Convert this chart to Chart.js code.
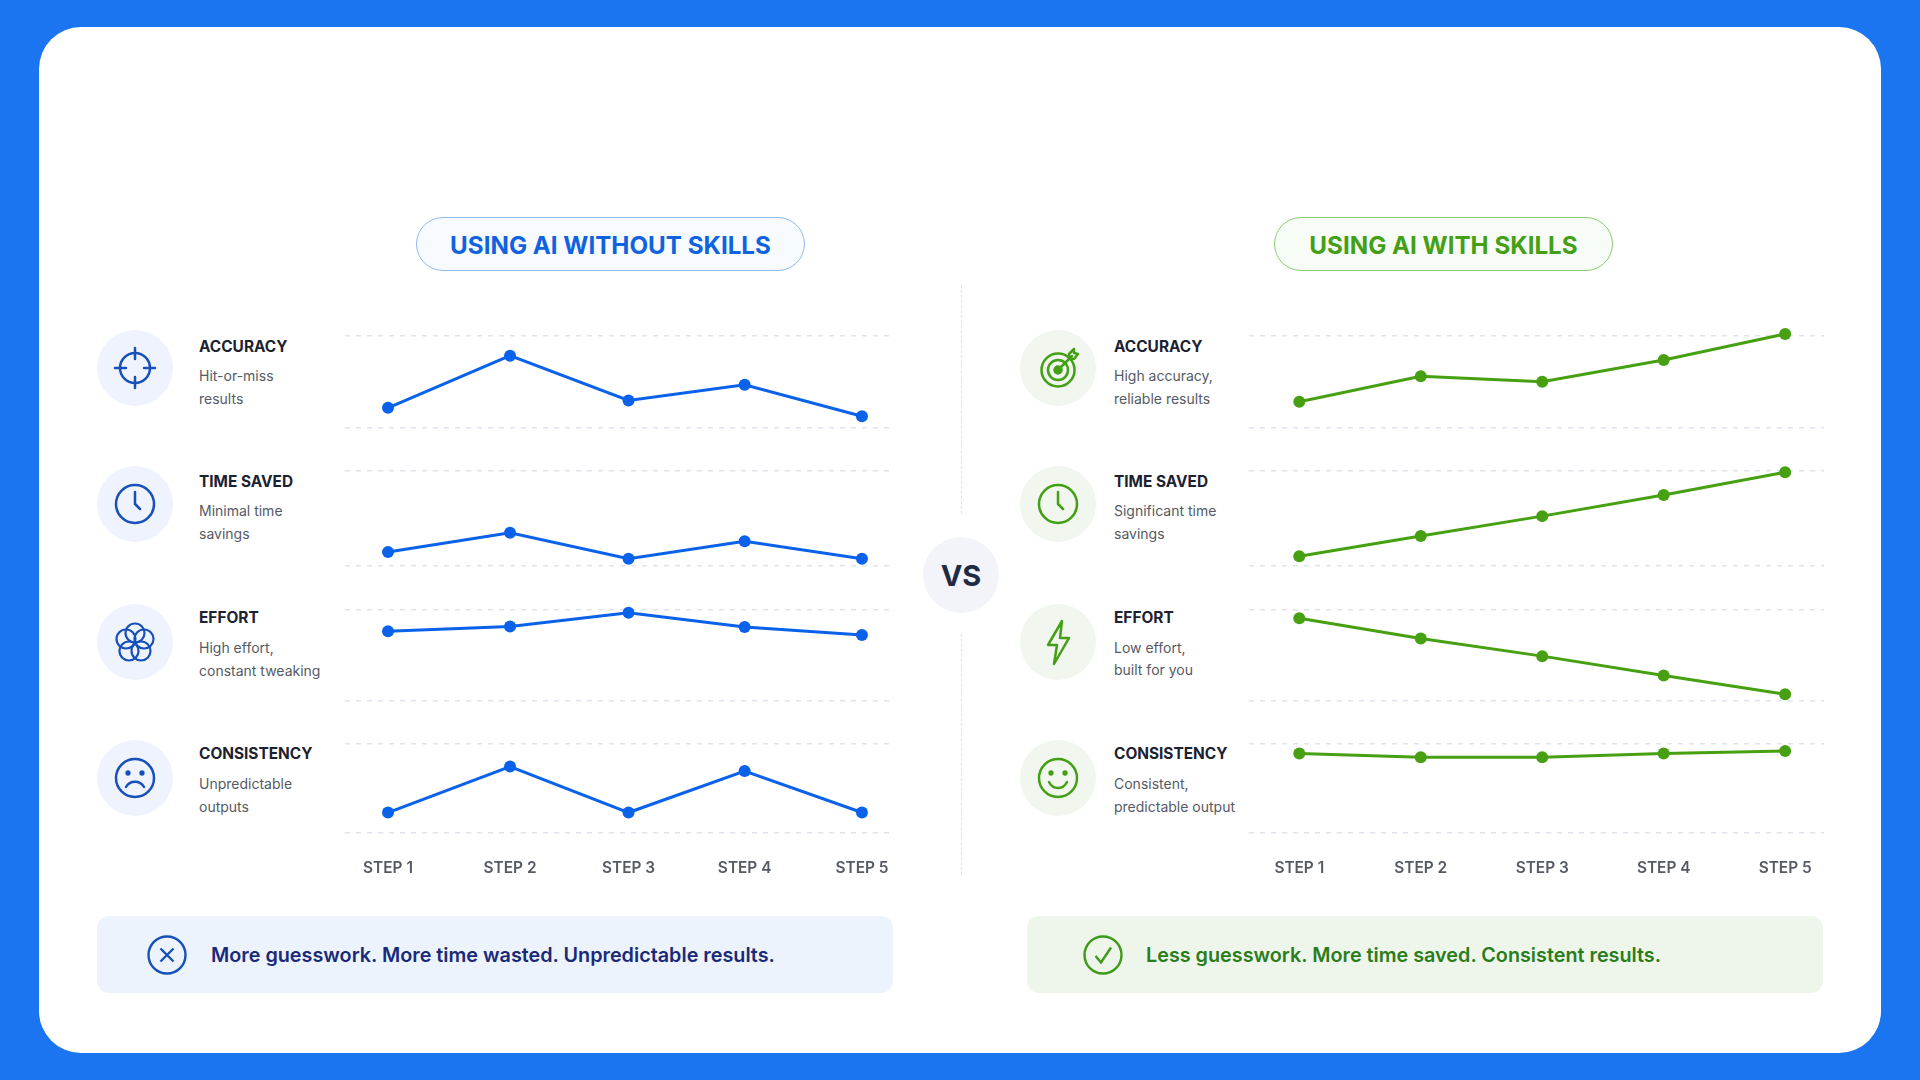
<!DOCTYPE html>
<html>
<head>
<meta charset="utf-8">
<title>Using AI with and without skills</title>
<script src="https://cdn.jsdelivr.net/npm/chart.js@4"></script>
<style>
html,body{margin:0;padding:0;width:1920px;height:1080px;overflow:hidden;background:#1b74f0;font-family:Inter,"Noto Sans",sans-serif;}
#card{position:absolute;left:39px;top:27px;width:1842px;height:1026px;background:#fff;border-radius:42px;}
.abs{position:absolute;}
.pill{position:absolute;top:217px;height:52px;border-radius:27px;font-size:24.2px;font-weight:700;line-height:55px;text-align:center;white-space:nowrap;}
.pill.blue{left:416px;width:387px;color:#0f62e0;border:1.5px solid #94b8f0;background:#f7faff;}
.pill.green{left:1274px;width:337px;color:#43a014;border:1.5px solid #8cc878;background:#f8fcf6;}
.bubble{position:absolute;width:76px;height:76px;border-radius:50%;}
.bubble svg{position:absolute;left:0;top:0;}
.head{position:absolute;font-size:15.4px;font-weight:700;color:#1c2230;line-height:20px;white-space:nowrap;}
.sub{position:absolute;font-size:14px;color:#555a64;line-height:20px;white-space:nowrap;}
.bar{position:absolute;top:916px;height:77px;border-radius:12px;}
.bar span{position:absolute;top:1px;line-height:77px;font-size:19.8px;font-weight:600;white-space:nowrap;}
canvas{position:absolute;display:block;}
</style>
</head>
<body>
<div id="card"></div>
<div class="pill blue">USING AI WITHOUT SKILLS</div>
<div class="pill green">USING AI WITH SKILLS</div>

<div class="abs" style="left:961px;top:285px;height:229px;border-left:1.5px dashed #dde1e9"></div>
<div class="abs" style="left:961px;top:634px;height:241px;border-left:1.5px dashed #dde1e9"></div>
<div class="abs" style="left:923px;top:537px;width:76px;height:76px;border-radius:50%;background:#f2f4f9;color:#1f2a44;font-size:29px;font-weight:700;line-height:77px;text-align:center">VS</div>

<div class="bar" style="left:97px;width:796px;background:#edf3fd">
  <svg class="abs" style="left:50px;top:19px" width="40" height="40" viewBox="0 0 40 40" fill="none" stroke="#1650b8" stroke-width="2.4"><circle cx="20" cy="20" r="18.5"/><path d="M13.5 13.5 26.5 26.5M26.5 13.5 13.5 26.5"/></svg>
  <span style="left:114px;color:#1a2a78">More guesswork. More time wasted. Unpredictable results.</span>
</div>
<div class="bar" style="left:1027px;width:796px;background:#eef6ec">
  <svg class="abs" style="left:56px;top:19px" width="40" height="40" viewBox="0 0 40 40" fill="none" stroke="#3f9a18" stroke-width="2.4"><circle cx="20" cy="20" r="18.5"/><path d="M12.5 21 18 27.5 28 12.5"/></svg>
  <span style="left:119px;color:#2b7d1c">Less guesswork. More time saved. Consistent results.</span>
</div>

<script>
// ---- data ----
const stepLabels = ["STEP 1", "STEP 2", "STEP 3", "STEP 4", "STEP 5"];
const stepsWithout = [1, 2.03, 3.03, 4.01, 5];
const stepsWith = [1, 2, 3, 4, 5];

const metricNames = ["ACCURACY", "TIME SAVED", "EFFORT", "CONSISTENCY"];

const notesWithout = [
    ["Hit-or-miss", "results"],
    ["Minimal time", "savings"],
    ["High effort,", "constant tweaking"],
    ["Unpredictable", "outputs"]
];
const notesWith = [
    ["High accuracy,", "reliable results"],
    ["Significant time", "savings"],
    ["Low effort,", "built for you"],
    ["Consistent,", "predictable output"]
];

const accuracyWithout = [22, 78.6, 30, 47, 12.7];
const timeWithout = [14.7, 35, 7.7, 26, 7.7];
const effortWithout = [76.7, 81.8, 97.1, 81.4, 72.6];
const consistencyWithout = [23, 74.7, 23, 69.6, 23];

const accuracyWith = [28.6, 56.2, 50.3, 73.9, 102.2];
const timeWith = [10.2, 31.5, 52.5, 74.8, 98.6];
const effortWith = [90.9, 68.7, 49.3, 28.1, 7.3];
const consistencyWith = [89.2, 85.1, 85.1, 89.2, 92.2];

// ---- layout ----
const rowTop = [336, 471, 610, 744];
const rowBottom = [428, 566, 701, 833];
const bubbleTop = [330, 466, 604, 740];
const headY = [347, 482, 618, 754];
const noteY = [[376, 399], [511, 534], [648, 671], [784, 807]];
const noteYWith = [[376, 399], [511, 534], [648, 670], [784, 807]];

const iconsWithout = [
    '<circle cx="38" cy="38" r="15"/><path d="M38 18V29M38 47V58M18 38H29M47 38H58"/>',
    '<circle cx="38" cy="38" r="19"/><path d="M38 26V38L43 43"/>',
    '<g stroke-width="2.2"><circle cx="38" cy="29" r="9.5"/><circle cx="47" cy="35" r="9.5"/><circle cx="44" cy="47" r="9.5"/><circle cx="32" cy="47" r="9.5"/><circle cx="29" cy="35" r="9.5"/></g>',
    '<circle cx="38" cy="38" r="19"/><circle cx="31" cy="33" r="1.4" fill="#1650b8"/><circle cx="45" cy="33" r="1.4" fill="#1650b8"/><path d="M29 47c4-7 14-7 18 0"/>'
];
const iconsWith = [
    '<circle cx="38" cy="40" r="16.5"/><circle cx="38" cy="40" r="10"/><circle cx="38" cy="40" r="3.5" fill="#43a014"/><path d="M38 40 52 26M49 24V29H54L58 24 54 23V19Z"/>',
    '<circle cx="38" cy="38" r="19"/><path d="M38 26V38L43 43"/>',
    '<path d="M42 17 28 41H37L34 60 49 34H40Z"/>',
    '<circle cx="38" cy="38" r="19"/><circle cx="31" cy="33" r="1.4" fill="#43a014"/><circle cx="45" cy="33" r="1.4" fill="#43a014"/><path d="M29 42c4 8 14 8 18 0"/>'
];

// ---- text and icon column ----
function addRow(i, bubbleLeft, textLeft, bubbleColor, iconColor, icon, notes, lines){
    const bubble = document.createElement("div");
    bubble.className = "bubble";
    bubble.style.left = bubbleLeft + "px";
    bubble.style.top = bubbleTop[i] + "px";
    bubble.style.background = bubbleColor;
    bubble.innerHTML = '<svg width="76" height="76" fill="none" stroke-width="2.5" stroke-linecap="round" stroke-linejoin="round" stroke="' + iconColor + '">' + icon + '</svg>';
    document.body.appendChild(bubble);

    const head = document.createElement("div");
    head.className = "head";
    head.style.left = textLeft + "px";
    head.style.top = (headY[i] - 10) + "px";
    head.innerText = metricNames[i];
    document.body.appendChild(head);

    notes.forEach((t, k)=>{
        const sub = document.createElement("div");
        sub.className = "sub";
        sub.style.left = textLeft + "px";
        sub.style.top = (lines[i][k] - 10) + "px";
        sub.innerText = t;
        document.body.appendChild(sub);
    });
}

// ---- one chart per metric ----
function addChart(i, left, right, xMin, xMax, steps, values, color){
    const last = i === metricNames.length - 1;
    const padTop = 16;
    const padBottom = last ? 56 : 16;

    const canvas = document.createElement("canvas");
    canvas.width = right - left;
    canvas.height = rowBottom[i] - rowTop[i] + padTop + padBottom;
    canvas.style.left = left + "px";
    canvas.style.top = (rowTop[i] - padTop) + "px";
    document.body.appendChild(canvas);

    new Chart(canvas, {
        type: "line",
        data: {
            datasets: [{
                data: values.map((v, k)=>({x: steps[k], y: v})),
                borderColor: color,
                backgroundColor: color,
                borderWidth: 3,
                pointRadius: 6,
                pointBorderWidth: 0,
                pointBackgroundColor: color,
                tension: 0,
                clip: false
            }]
        },
        options: {
            responsive: false,
            animation: false,
            layout: {autoPadding: false, padding: {top: padTop, left: 0, right: 0, bottom: 0}},
            plugins: {legend: {display: false}, tooltip: {enabled: false}},
            scales: {
                x: {
                    type: "linear",
                    min: xMin,
                    max: xMax,
                    border: {display: false},
                    grid: {display: false},
                    afterBuildTicks: s=>{ s.ticks = steps.map(v=>({value: v})); },
                    // the STEP labels sit well inside the row, no side padding needed
                    afterFit: s=>{ s.height = padBottom; s.paddingLeft = 0; s.paddingRight = 0; },
                    ticks: {
                        display: last,
                        autoSkip: false,
                        maxRotation: 0,
                        padding: 18,
                        color: "#555a64",
                        font: {family: "Inter", size: 15.4, weight: "600"},
                        callback: (v, k)=>stepLabels[k]
                    }
                },
                y: {
                    min: 0,
                    max: 100,
                    border: {display: false, dash: [5, 6]},
                    afterFit: s=>{ s.width = 0; },
                    grid: {color: "#dfe3ee", lineWidth: 1.5, drawTicks: false},
                    ticks: {display: false, stepSize: 100}
                }
            }
        }
    });
}

const seriesWithout = [accuracyWithout, timeWithout, effortWithout, consistencyWithout];
const seriesWith = [accuracyWith, timeWith, effortWith, consistencyWith];

metricNames.forEach((name, i)=>{
    addRow(i, 97, 199, "#eef3fd", "#1650b8", iconsWithout[i], notesWithout[i], noteY);
    addChart(i, 345, 895, 0.637, 5.279, stepsWithout, seriesWithout[i], "#0a62ea");
    addRow(i, 1020, 1114, "#f1f6ef", "#43a014", iconsWith[i], notesWith[i], noteYWith);
    addChart(i, 1249, 1824, 0.586, 5.32, stepsWith, seriesWith[i], "#46a012");
});
</script>
</body>
</html>
